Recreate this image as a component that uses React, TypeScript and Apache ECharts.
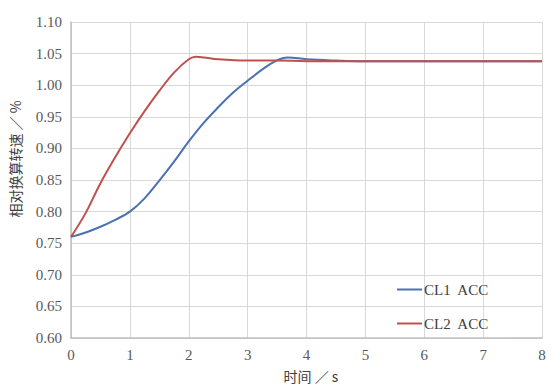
import React, { useEffect, useRef } from "react";
import * as echarts from "echarts";

const timesCL1 = [0, 0.25, 0.5, 0.75, 1.0, 1.25, 1.5, 1.75, 2.0, 2.25, 2.5, 2.75, 3.0, 3.25, 3.45, 3.68, 4.0, 4.5, 5, 6, 7, 8];
const valuesCL1 = [0.76, 0.767, 0.776, 0.787, 0.8, 0.821, 0.849, 0.879, 0.911, 0.94, 0.965, 0.988, 1.007, 1.025, 1.037, 1.044, 1.041, 1.039, 1.038, 1.038, 1.038, 1.038];

const timesCL2 = [0, 0.25, 0.5, 0.75, 1.0, 1.25, 1.5, 1.75, 2.0, 2.125, 2.25, 2.5, 3.0, 3.5, 4, 5, 6, 7, 8];
const valuesCL2 = [0.76, 0.798, 0.845, 0.886, 0.924, 0.959, 0.991, 1.02, 1.041, 1.045, 1.044, 1.041, 1.039, 1.039, 1.038, 1.038, 1.038, 1.038, 1.038];

const seriesNames = ["CL1  ACC", "CL2  ACC"];
const xTitle = "时间 ／ s";
const yTitle = "相对换算转速 ／ %";

const FONT = "Liberation Serif";

export default function App() {
  const ref = useRef<HTMLDivElement>(null);
  useEffect(() => {
    if (!ref.current) return;
    const chart = echarts.init(ref.current, undefined, { renderer: "svg" });
    const mk = (ts: number[], vs: number[]) => ts.map((t, i) => [t, vs[i]]);
    chart.setOption({
      animation: false,
      backgroundColor: "#ffffff",
      textStyle: { fontFamily: FONT },
      grid: { left: 71, right: 11, top: 22, bottom: 50 },
      xAxis: {
        type: "value",
        min: 0,
        max: 8,
        interval: 1,
        axisLine: { lineStyle: { color: "#bfbfbf", width: 1.5 } },
        axisTick: { show: false },
        axisLabel: { color: "#595959", fontFamily: FONT, fontSize: 15, margin: 9 },
        splitLine: { lineStyle: { color: "#d9d9d9", width: 1 } },
      },
      yAxis: {
        type: "value",
        min: 0.6,
        max: 1.1,
        interval: 0.05,
        axisLine: { show: true, lineStyle: { color: "#bfbfbf", width: 1.5 } },
        axisTick: { show: false },
        axisLabel: {
          color: "#595959",
          fontFamily: FONT,
          fontSize: 15,
          margin: 9,
          formatter: (v: number) => v.toFixed(2),
        },
        splitLine: { lineStyle: { color: "#d9d9d9", width: 1 } },
      },
      legend: {
        orient: "vertical",
        left: 392,
        top: 277,
        itemGap: 19,
        itemWidth: 25,
        itemHeight: 2,
        icon: "rect",
        textStyle: { color: "#404040", fontFamily: FONT, fontSize: 15, padding: [0, 0, 0, -3] },
        data: seriesNames,
      },
      graphic: [
        {
          type: "text",
          x: 15,
          y: 159,
          rotation: Math.PI / 2,
          style: {
            text: yTitle,
            fill: "#404040",
            fontFamily: "Noto Sans CJK SC",
            fontSize: 14,
            align: "center",
            verticalAlign: "middle",
          },
        },
        {
          type: "text",
          x: 311,
          y: 376,
          style: {
            text: xTitle,
            fill: "#404040",
            fontFamily: "Noto Sans CJK SC",
            fontSize: 14,
            align: "center",
            verticalAlign: "middle",
          },
        },
      ],
      series: [
        {
          name: seriesNames[0],
          type: "line",
          data: mk(timesCL1, valuesCL1),
          smooth: 0.4,
          symbol: "none",
          lineStyle: { color: "#4a72b0", width: 2 },
          itemStyle: { color: "#4a72b0" },
        },
        {
          name: seriesNames[1],
          type: "line",
          data: mk(timesCL2, valuesCL2),
          smooth: 0.4,
          symbol: "none",
          lineStyle: { color: "#c0504d", width: 2 },
          itemStyle: { color: "#c0504d" },
        },
      ],
    });
    return () => chart.dispose();
  }, []);
  return <div ref={ref} style={{ width: 553, height: 388, position: "absolute", left: 0, top: 0 }} />;
}
